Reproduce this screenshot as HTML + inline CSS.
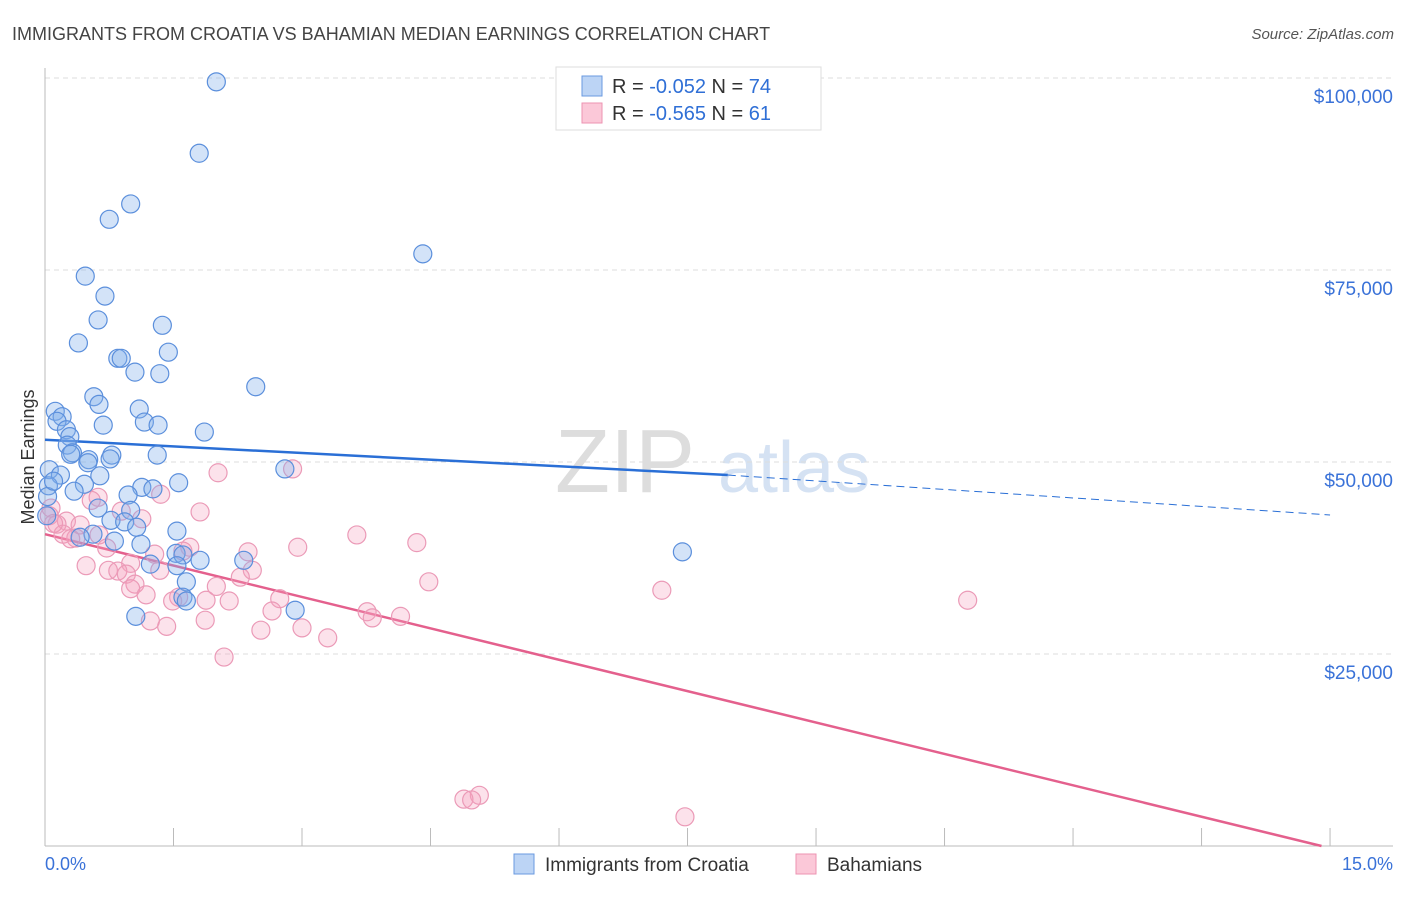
<!DOCTYPE html>
<html><head><meta charset="utf-8"><style>
body{margin:0;background:#fff;font-family:"Liberation Sans",sans-serif}
svg text{font-family:"Liberation Sans",sans-serif}
</style></head><body>
<svg id="chart" width="1406" height="892">
<text x="12" y="40" font-size="18" fill="#444">IMMIGRANTS FROM CROATIA VS BAHAMIAN MEDIAN EARNINGS CORRELATION CHART</text>
<text x="1394" y="39" font-size="15" fill="#555" text-anchor="end" font-style="italic">Source: ZipAtlas.com</text>
<text x="34" y="457" font-size="18" fill="#333" text-anchor="middle" transform="rotate(-90 34 457)">Median Earnings</text>
<text x="555" y="492" font-size="90" fill="#ddd" font-family="Liberation Serif">ZIP</text>
<text x="718" y="492" font-size="72" fill="#d5e2f3">atlas</text>
<g id="grid"></g><g id="axes"></g><g id="trends"></g><g id="pts"></g>
<g>
<rect x="556" y="67" width="265" height="63" fill="#fff" stroke="#ddd"/>
<rect x="582" y="76" width="20" height="20" fill="#bcd4f5" stroke="#6a9ae0"/>
<rect x="582" y="103" width="20" height="20" fill="#fbc8d8" stroke="#ec93b2"/>
<text x="612" y="93" font-size="20" fill="#333">R = <tspan fill="#2f6fd6">-0.052</tspan>   N = <tspan fill="#2f6fd6">74</tspan></text>
<text x="612" y="120" font-size="20" fill="#333">R = <tspan fill="#2f6fd6">-0.565</tspan>   N = <tspan fill="#2f6fd6">61</tspan></text>
</g>
<g>
<rect x="514" y="854" width="20" height="20" fill="#bcd4f5" stroke="#6a9ae0"/>
<text x="545" y="871" font-size="19" fill="#333">Immigrants from Croatia</text>
<rect x="796" y="854" width="20" height="20" fill="#fbc8d8" stroke="#ec93b2"/>
<text x="827" y="871" font-size="19" fill="#333">Bahamians</text>
</g>
<text x="45" y="870" font-size="18" fill="#3a72d8">0.0%</text>
<text x="1393" y="870" font-size="18" fill="#3a72d8" text-anchor="end">15.0%</text>
</svg>
<script>
const yTicks=[25000,50000,75000,100000];
const yTickLabels=["$25,000","$50,000","$75,000","$100,000"];
const xTicks=[0,1.5,3,4.5,6,7.5,9,10.5,12,13.5,15];
const croatiaX=[2.0,1.8,1.0,0.75,4.41,0.47,0.7,0.62,1.37,0.39,1.44,0.85,0.89,1.05,1.34,2.46,0.57,0.63,1.1,0.12,0.2,0.14,1.16,1.32,0.68,0.25,1.86,0.29,0.26,0.32,1.31,0.78,0.51,0.5,0.76,2.8,0.05,0.18,0.64,1.56,0.46,0.04,1.13,1.26,0.34,0.97,0.62,1.0,0.77,0.93,1.07,1.54,0.56,0.41,0.81,1.12,7.44,1.53,1.61,2.32,1.81,1.23,1.54,1.65,1.61,1.65,2.92,1.06,0.03,0.02,0.1,0.3];
const croatiaY=[99.5,90.2,83.6,81.6,77.1,74.2,71.6,68.5,67.8,65.5,64.3,63.5,63.5,61.7,61.5,59.8,58.5,57.5,56.9,56.6,55.9,55.3,55.2,54.8,54.8,54.2,53.9,53.3,52.2,51.2,50.9,50.9,50.3,49.9,50.4,49.1,49.0,48.3,48.2,47.3,47.1,46.9,46.7,46.5,46.2,45.7,44.0,43.7,42.4,42.2,41.5,41.0,40.6,40.2,39.7,39.3,38.3,38.1,37.9,37.2,37.2,36.7,36.5,34.4,32.4,31.9,30.7,29.9,45.5,43.0,47.5,51.0];
const bahamasX=[2.02,2.89,1.35,0.62,0.54,0.07,1.81,0.89,1.13,0.25,0.14,0.41,3.64,0.21,0.63,0.36,4.34,2.95,1.69,0.72,1.61,2.37,1.28,1.0,0.48,0.74,1.34,2.42,0.85,0.95,2.28,4.48,1.05,2.0,7.2,1.0,2.74,1.18,1.56,10.77,1.88,2.15,1.49,2.65,3.76,3.82,4.15,1.87,1.23,1.42,3.0,2.52,3.3,2.09,5.07,4.89,4.98,7.47,0.05,0.3,0.1];
const bahamasY=[48.6,49.1,45.8,45.4,45.0,44.0,43.5,43.6,42.6,42.3,41.9,41.8,40.5,40.6,40.5,40.1,39.5,38.9,38.9,38.8,38.4,38.3,38.0,36.8,36.5,35.9,35.9,35.9,35.8,35.4,35.0,34.4,34.1,33.8,33.3,33.5,32.2,32.7,32.4,32.0,32.0,31.9,31.9,30.6,30.5,29.7,29.9,29.4,29.3,28.6,28.4,28.1,27.1,24.6,6.6,6.1,6.0,3.8,43.0,40.0,42.0];
const croatiaTrend=[52.9,48.3,43.1]; // at x=0, 7.97 (solid end), 15
const croatiaTrendX=[0,7.97,15];
const bahamasTrend=[40.6,0.0];
const bahamasTrendX=[0,14.9];

const NS="http://www.w3.org/2000/svg";
const X=v=>45+v*85.67;
const Y=v=>846-v/25000*192;
const Yk=v=>Y(v*1000);
function mk(tag,attrs,parent){const e=document.createElementNS(NS,tag);for(const k in attrs)e.setAttribute(k,attrs[k]);document.getElementById(parent).appendChild(e);return e;}
yTicks.forEach((t,i)=>{
  const l=mk('line',{x1:45,x2:1393,y1:Y(t),y2:Y(t),stroke:'#ddd','stroke-dasharray':'5,4'},'grid');
  
  
  const tx=mk('text',{x:1393,y:Y(t)+25,'font-size':19,fill:'#3a72d8','text-anchor':'end'},'grid');
  tx.textContent=yTickLabels[i];
  
  
});
const ya=mk('line',{x1:45,x2:45,y1:68,y2:846,stroke:'#bbb'},'axes');


const xa=mk('line',{x1:45,x2:1393,y1:846,y2:846,stroke:'#bbb'},'axes');


xTicks.forEach(t=>{
  const l=mk('line',{x1:X(t),x2:X(t),y1:828,y2:846,stroke:'#bbb'},'axes');
  
  
});
function pts(xs,ys,fill,stroke,name){
  xs.forEach((x,i)=>{
    const c=mk('circle',{cx:X(x),cy:Yk(ys[i]),r:9,fill:fill,stroke:stroke,'stroke-width':1.2},'pts');
    
    
  });
}
pts(bahamasX,bahamasY,'rgba(245,160,190,0.3)','#eb9ab7','bahamians-point');
pts(croatiaX,croatiaY,'rgba(130,175,235,0.35)','#5b8fdc','croatia-point');
const t1=mk('line',{x1:X(croatiaTrendX[0]),y1:Yk(croatiaTrend[0]),x2:X(croatiaTrendX[1]),y2:Yk(croatiaTrend[1]),stroke:'#2a6fd6','stroke-width':2.5},'trends');


const t2=mk('line',{x1:X(croatiaTrendX[1]),y1:Yk(croatiaTrend[1]),x2:X(croatiaTrendX[2]),y2:Yk(croatiaTrend[2]),stroke:'#2a6fd6','stroke-width':1,'stroke-dasharray':'8,5'},'trends');


const t3=mk('line',{x1:X(bahamasTrendX[0]),y1:Yk(bahamasTrend[0]),x2:X(bahamasTrendX[1]),y2:Yk(bahamasTrend[1]),stroke:'#e4608d','stroke-width':2.5},'trends');


</script>
</body></html>
